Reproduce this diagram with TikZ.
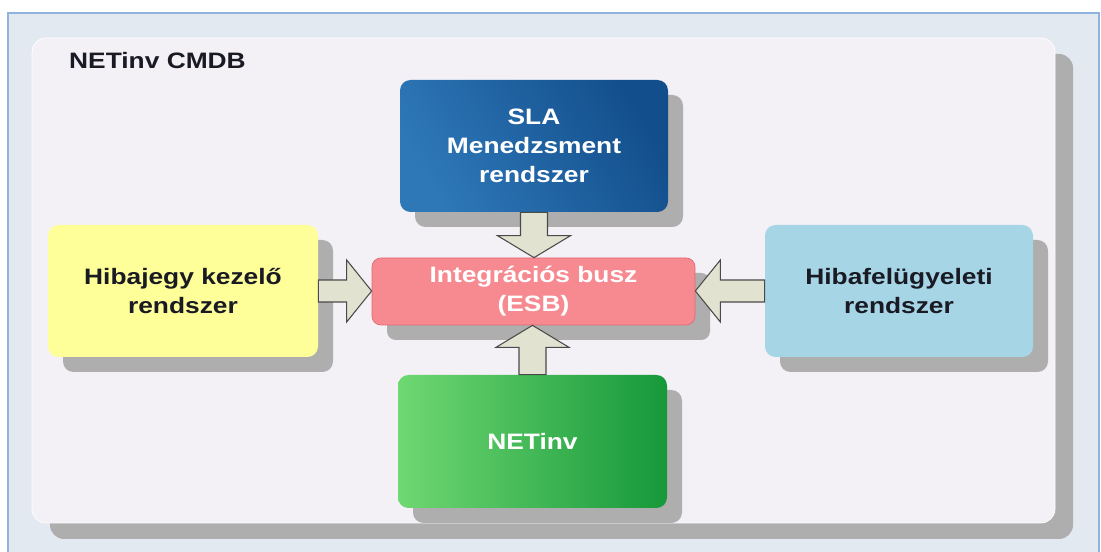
\documentclass[tikz,border=0pt]{standalone}
\usepackage{fontspec}
\setmainfont{Liberation Sans}[FakeStretch=1.18]
\usepackage{tikz}
\usetikzlibrary{positioning, calc, shadows}

\definecolor{frameBg}{HTML}{E2E9F1}
\definecolor{frameLn}{HTML}{8DB3DE}
\definecolor{panelBg}{HTML}{F3F0F6}
\definecolor{shadowGr}{HTML}{AEAEAE}
\definecolor{slaL}{HTML}{2E78B8}
\definecolor{slaR}{HTML}{134E8C}
\definecolor{esbFill}{HTML}{F68A90}
\definecolor{esbLine}{HTML}{E26A74}
\definecolor{hibaFill}{HTML}{FFFF99}
\definecolor{felFill}{HTML}{A6D6E6}
\definecolor{netL}{HTML}{6FD872}
\definecolor{netR}{HTML}{16983A}
\definecolor{arrFill}{HTML}{E2E2D0}
\definecolor{arrLine}{HTML}{4A4A4A}
\definecolor{txtDark}{HTML}{1A1A24}

\tikzset{
  % --- Dobozok ----------------------------------------------
  sysbox/.style={rounded corners=6pt, align=center,
    font=\fontsize{12.7pt}{16.4pt}\selectfont\bfseries,
    minimum width=5.36cm, minimum height=2.64cm, inner sep=2pt,
    drop shadow={shadow xshift=0.3cm, shadow yshift=-0.3cm,
      fill=shadowGr, opacity=1}},
  busbox/.style={sysbox, draw=esbLine, fill=esbFill, text=white,
    minimum width=6.46cm, minimum height=1.34cm, rounded corners=5pt},
  % --- Nyilak -----------------------------------------------
  barr/.style={draw=arrLine, fill=arrFill, line width=0.6pt, line join=miter},
  lbl/.style={font=\fontsize{12.7pt}{16.4pt}\selectfont\bfseries, text=txtDark}
}

\begin{document}
\begin{tikzpicture}

  \useasboundingbox (0,0) rectangle (22.02,-11.04);
  \clip (0,0) rectangle (22.02,-11.04);

  % --- Keret es panel ------------------------------------------------
  \draw[fill=frameBg, draw=frameLn, line width=1.2pt] (0.16,-0.26) rectangle (21.98,-11.4);
  \fill[shadowGr, rounded corners=8pt] (1.00,-1.08) rectangle (21.46,-10.78);
  \draw[fill=panelBg, draw=white, rounded corners=8pt] (0.64,-0.76) rectangle (21.10,-10.46);

  \node[lbl, anchor=base west] (title) at (1.26,-1.38) {NETinv CMDB};

  % --- Rendszerek ----------------------------------------------------
  \node[sysbox, shading=axis, left color=slaL, right color=slaR, shading angle=120, text=white] (sla) at (10.68,-2.92) {SLA\\Menedzsment\\rendszer};
  \node[busbox] (esb) at (10.67,-5.83) {Integrációs busz\\(ESB)};
  \node[sysbox, fill=hibaFill, text=txtDark, minimum width=5.40cm] (hiba) at (3.66,-5.82) {Hibajegy kezelő\\rendszer};
  \node[sysbox, fill=felFill, text=txtDark] (felugy) at (17.98,-5.82) {Hibafelügyeleti\\rendszer};
  \node[sysbox, left color=netL, right color=netR, text=white, minimum width=5.38cm, minimum height=2.66cm] (netinv) at (10.65,-8.83) {NETinv};

  % --- Nyilak a busz fele --------------------------------------------
  \draw[barr] let \p1=(sla.south), \p2=(esb.north) in
    (\x1-0.27cm,\y1) -- (\x1-0.27cm,\y2+0.44cm) -- (\x1-0.73cm,\y2+0.44cm) -- (\x1,\y2)
    -- (\x1+0.73cm,\y2+0.44cm) -- (\x1+0.27cm,\y2+0.44cm) -- (\x1+0.27cm,\y1) -- cycle;
  \draw[barr] let \p1=(netinv.north), \p2=(esb.south) in
    (\x1-0.27cm,\y1) -- (\x1-0.27cm,\y2-0.44cm) -- (\x1-0.73cm,\y2-0.44cm) -- (\x1,\y2)
    -- (\x1+0.73cm,\y2-0.44cm) -- (\x1+0.27cm,\y2-0.44cm) -- (\x1+0.27cm,\y1) -- cycle;
  \draw[barr] let \p1=(hiba.east), \p2=(esb.west) in
    (\x1,\y1+0.22cm) -- (\x2-0.5cm,\y1+0.22cm) -- (\x2-0.5cm,\y1+0.62cm) -- (\x2,\y1)
    -- (\x2-0.5cm,\y1-0.62cm) -- (\x2-0.5cm,\y1-0.22cm) -- (\x1,\y1-0.22cm) -- cycle;
  \draw[barr] let \p1=(felugy.west), \p2=(esb.east) in
    (\x1,\y1+0.22cm) -- (\x2+0.5cm,\y1+0.22cm) -- (\x2+0.5cm,\y1+0.62cm) -- (\x2,\y1)
    -- (\x2+0.5cm,\y1-0.62cm) -- (\x2+0.5cm,\y1-0.22cm) -- (\x1,\y1-0.22cm) -- cycle;

\end{tikzpicture}
\end{document}
